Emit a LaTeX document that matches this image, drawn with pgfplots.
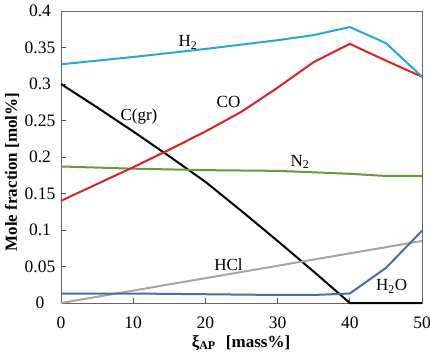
\documentclass[border=0pt]{standalone}
\usepackage{pgfplots}
\pgfplotsset{compat=1.18}
\usepackage{fontspec}
\setmainfont{Liberation Serif}
\definecolor{hblue}{RGB}{30,170,225}
\definecolor{cored}{RGB}{225,30,35}
\definecolor{ngreen}{RGB}{100,155,60}
\definecolor{hclgray}{RGB}{165,165,165}
\definecolor{wblue}{RGB}{70,110,170}
\begin{document}
\fontsize{17}{19}\selectfont
\begin{tikzpicture}
\begin{axis}[
  scale only axis, width=361pt, height=292pt,
  xmin=0, xmax=50, ymin=0, ymax=0.4,
  xtick={0,10,20,30,40,50},
  ytick={0,0.05,0.1,0.15,0.2,0.25,0.3,0.35,0.4},
  tick align=inside, tick pos=left,
  major tick length=5pt,
  axis line style={draw=black!60, line width=0.9pt},
  tick style={black!70, line width=0.9pt},
  /pgf/number format/assume math mode=true,
  yticklabel style={/pgf/number format/fixed, /pgf/number format/precision=2, anchor=center, xshift=-21pt},
  xticklabel style={anchor=center, yshift=-20pt},
  ticklabel style={font=\fontsize{17.5}{19}\selectfont},
  every axis plot/.append style={line width=2pt, mark=none},
  clip=false,
]
% C(gr)
\addplot[black] coordinates {(0,0.3) (5,0.268) (10,0.235) (15,0.201) (20,0.166) (25,0.126) (30,0.085) (35,0.043) (40,0) (45,0) (50,0)};
% HCl
\addplot[hclgray] coordinates {(0,0) (10,0.017) (20,0.034) (30,0.051) (40,0.068) (50,0.085)};
% H2O
\addplot[wblue] coordinates {(0,0.013) (10,0.013) (20,0.012) (30,0.011) (35,0.011) (40,0.013) (45,0.048) (50,0.099)};
% N2
\addplot[ngreen] coordinates {(0,0.187) (10,0.184) (20,0.182) (30,0.181) (35,0.179) (40,0.177) (45,0.174) (50,0.174)};
% CO
\addplot[cored] coordinates {(0,0.14) (5,0.163) (10,0.186) (15,0.21) (20,0.235) (25,0.262) (30,0.295) (35,0.33) (40,0.355) (45,0.332) (50,0.31)};
% H2
\addplot[hblue] coordinates {(0,0.327) (10,0.337) (20,0.348) (30,0.36) (35,0.367) (40,0.378) (45,0.356) (50,0.31)};
\node at (axis cs:17.6,0.357) {H\textsubscript{2}};
\node at (axis cs:10.8,0.256) {C(gr)};
\node at (axis cs:23.2,0.275) {CO};
\node at (axis cs:33.1,0.193) {N\textsubscript{2}};
\node at (axis cs:23.2,0.052) {HCl};
\node at (axis cs:45.8,0.023) {H\textsubscript{2}O};
\end{axis}
\node[rotate=90, font=\bfseries\fontsize{17}{19}\selectfont] at ([xshift=-49pt,yshift=131pt]current axis.south west) {Mole fraction [mol\%]};
\node[font=\bfseries\fontsize{17}{19}\selectfont] at ([xshift=180pt,yshift=-40pt]current axis.south west) {ξ\textsubscript{AP}\hspace{0.6em}[mass\%]};
\pgfresetboundingbox
\path[use as bounding box] ([xshift=-61pt,yshift=-53pt]current axis.south west) rectangle ([xshift=8pt,yshift=11pt]current axis.north east);
\end{tikzpicture}
\end{document}
